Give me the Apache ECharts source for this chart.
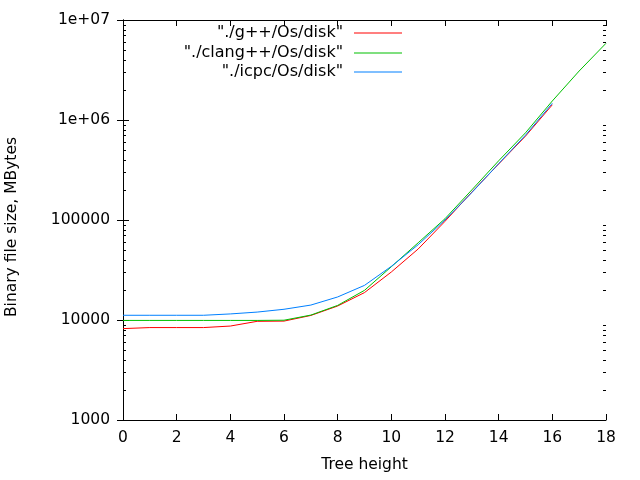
<!DOCTYPE html>
<html><head><meta charset="utf-8">
<script src="https://cdn.jsdelivr.net/npm/echarts@6/dist/echarts.min.js"></script>
<style>html,body{margin:0;padding:0;background:#fff}#c{width:640px;height:480px}</style>
</head><body><div id="c"></div>
<script>
const seriesNames = ['"./g++/Os/disk"', '"./clang++/Os/disk"', '"./icpc/Os/disk"'];
const gppX = [0,1,2,3,4,5,6,7,8,9,10,11,12,13,14,15,16];
const gppY = [8200,8400,8400,8400,8700,9700,9750,11100,13800,18800,30200,51300,97000,190000,363000,690000,1420000];
const clangX = [0,1,2,3,4,5,6,7,8,9,10,11,12,13,14,15,16,17,18];
const clangY = [9900,9900,9900,9900,9900,9900,9950,11200,14000,19800,34100,59200,103000,200000,391000,745000,1550000,3090000,5850000];
const icpcX = [0,1,2,3,4,5,6,7,8,9,10,11,12,13,14,15,16];
const icpcY = [11150,11150,11150,11150,11500,12000,12800,14100,17000,22200,34400,56600,100000,188000,366000,705000,1470000];
const yTickValues = [1000,10000,100000,1000000,10000000];
const yTickLabels = ['1000','10000','100000','1e+06','1e+07'];
const minorVals = [];
for (let d = 1000; d < 1e7; d *= 10) for (let k = 2; k <= 9; k++) minorVals.push(d * k);
const xMin = 0, xMax = 18, xStep = 2;
const colors = ['#ff0000', '#00c000', '#0080ff'];
const font = 'DejaVu Sans';
const fs = 15.5;

function pairs(xs, ys) { return xs.map((x, i) => [x, ys[i]]); }

const axisCommon = {
  axisLine: { show: true, lineStyle: { color: '#000', width: 1 } },
  axisTick: { show: true, inside: true, length: 6, lineStyle: { color: '#000' } },
  splitLine: { show: false }
};

const chart = echarts.init(document.getElementById('c'), null, { renderer: 'canvas' });
const legendTops = [25, 45, 64];
const legends = seriesNames.map((n, i) => ({
  data: [n],
  orient: 'vertical',
  right: 238,
  top: legendTops[i],
  align: 'right',
  icon: 'rect',
  itemWidth: 48,
  itemHeight: 1,
  padding: 0,
  selectedMode: false,
  textStyle: { fontFamily: font, fontSize: 16, color: '#000', padding: [0, 6, 0, 0] }
}));

chart.setOption({
  animation: false,
  backgroundColor: '#fff',
  grid: { left: 123, right: 34, top: 20, bottom: 60, containLabel: false, outerBoundsMode: 'none' },
  legend: legends,
  xAxis: [
    Object.assign({}, axisCommon, {
      type: 'value', min: xMin, max: xMax, interval: xStep, position: 'bottom',
      name: 'Tree height', nameLocation: 'middle', nameGap: 37,
      nameTextStyle: { fontFamily: font, fontSize: fs, color: '#000' },
      axisLabel: { fontFamily: font, fontSize: fs, color: '#000', margin: 10 }
    }),
    Object.assign({}, axisCommon, {
      type: 'value', min: xMin, max: xMax, interval: xStep, position: 'top',
      axisLabel: { show: false }
    })
  ],
  yAxis: [
    Object.assign({}, axisCommon, {
      type: 'log', logBase: 10, min: yTickValues[0], max: yTickValues[yTickValues.length - 1], position: 'left',
      name: 'Binary file size, MBytes', nameLocation: 'middle', nameGap: 103,
      nameTextStyle: { fontFamily: font, fontSize: fs, color: '#000', padding: [0, 14, 0, 0] },
      axisLabel: { fontFamily: font, fontSize: fs, color: '#000', margin: 13,
        formatter: v => { const i = yTickValues.findIndex(t => Math.abs(t - v) / t < 1e-6); return i >= 0 ? yTickLabels[i] : ''; } }
    }),
    Object.assign({}, axisCommon, {
      type: 'log', logBase: 10, min: yTickValues[0], max: yTickValues[yTickValues.length - 1], position: 'right',
      axisLabel: { show: false }
    })
  ],
  series: [
    { name: seriesNames[0], type: 'line', data: pairs(gppX, gppY), symbol: 'none', color: colors[0], lineStyle: { width: 1 } },
    { name: seriesNames[1], type: 'line', data: pairs(clangX, clangY), symbol: 'none', color: colors[1], lineStyle: { width: 1 } },
    { name: seriesNames[2], type: 'line', data: pairs(icpcX, icpcY), symbol: 'none', color: colors[2], lineStyle: { width: 1 } },
    {
      type: 'custom', silent: true, clip: false, legendHoverLink: false,
      data: minorVals.map(v => [xMin, v]),
      renderItem: (params, api) => {
        const v = api.value(1);
        const p = api.coord([xMin, v]);
        const q = api.coord([xMax, v]);
        const st = { stroke: '#000', lineWidth: 1 };
        return { type: 'group', children: [
          { type: 'line', shape: { x1: p[0], y1: Math.round(p[1]) + 0.5, x2: p[0] + 3, y2: Math.round(p[1]) + 0.5 }, style: st },
          { type: 'line', shape: { x1: q[0] - 3, y1: Math.round(q[1]) + 0.5, x2: q[0], y2: Math.round(q[1]) + 0.5 }, style: st }
        ] };
      }
    }
  ]
});
</script></body></html>
